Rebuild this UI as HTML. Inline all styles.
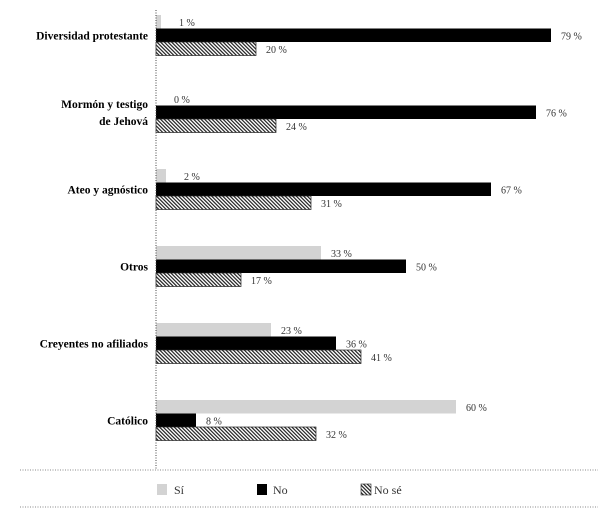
<!DOCTYPE html>
<html><head><meta charset="utf-8"><style>
body{margin:0;background:#fff;}
svg{display:block;font-family:"Liberation Serif",serif;}
</style></head><body>
<svg width="600" height="514">
<defs><pattern id="hatch" patternUnits="userSpaceOnUse" width="2.6" height="2.6" patternTransform="rotate(-45)">
<rect width="2.6" height="2.6" fill="#fff"/><rect width="1.2" height="2.6" fill="#222"/></pattern></defs>
<g id="plot"></g>
<line x1="156" y1="10" x2="156" y2="470" stroke="#444" stroke-dasharray="1,1.5"/>
<line x1="20" y1="470" x2="598" y2="470" stroke="#888" stroke-dasharray="1,1.5"/>
<line x1="20" y1="507" x2="598" y2="507" stroke="#888" stroke-dasharray="1,1.5"/>
<g font-size="12" fill="#333">
<g><rect x="157" y="484" width="10" height="11" fill="#d3d3d3"/><text x="174" y="494">Sí</text></g>
<g><rect x="257" y="484" width="10" height="11" fill="#000"/><text x="273" y="494">No</text></g>
<g><rect x="361" y="484" width="10" height="11" fill="url(#hatch)" stroke="#222" stroke-width="0.6"/><text x="374" y="494">No sé</text></g>
</g>
</svg>
<script>
const categories=["Diversidad protestante","Mormón y testigo|de Jehová","Ateo y agnóstico","Otros","Creyentes no afiliados","Católico"];
const si=[1,0,2,33,23,60];
const no=[79,76,67,50,36,8];
const nose=[20,24,31,17,41,32];
const x0=156, k=5.0, top0=15, step=77, bh=13.5;
const xs=v=>x0+v*k;
const ys=(i,s)=>top0+i*step+s*bh;
const g=document.getElementById('plot');
const NS='http://www.w3.org/2000/svg';
const series=[[si,'#d3d3d3','si'],[no,'#000','no'],[nose,'url(#hatch)','no-se']];
categories.forEach((c,i)=>{
  const lines=c.split('|');
  const cy=ys(i,1)+bh/2;
  const t=document.createElementNS(NS,'text');
  
  
  t.setAttribute('x',148);t.setAttribute('text-anchor','end');
  t.setAttribute('font-weight','bold');t.setAttribute('font-size','11.5');
  lines.forEach((l,j)=>{const ts=document.createElementNS(NS,'tspan');ts.setAttribute('x',148);
    ts.setAttribute('y',cy+4+(j-(lines.length-1)/2)*17);ts.textContent=l;t.appendChild(ts);});
  g.appendChild(t);
  series.forEach(([arr,fill,nm],s)=>{
    const v=arr[i];const y=ys(i,s);
    const r=document.createElementNS(NS,'rect');
    
    
    r.setAttribute('x',x0);r.setAttribute('y',y);r.setAttribute('width',Math.max(0,xs(v)-x0));r.setAttribute('height',bh);
    r.setAttribute('fill',fill);
    if(s==2){r.setAttribute('stroke','#222');r.setAttribute('stroke-width','0.7');}
    g.appendChild(r);
    const lt=document.createElementNS(NS,'text');
    
    
    lt.setAttribute('x',xs(v)+(v<3?18:10));lt.setAttribute('y',y+bh/2+4);
    lt.setAttribute('font-size','10');lt.setAttribute('fill','#333');
    lt.textContent=v+' %';g.appendChild(lt);
  });
});
</script>
</body></html>
